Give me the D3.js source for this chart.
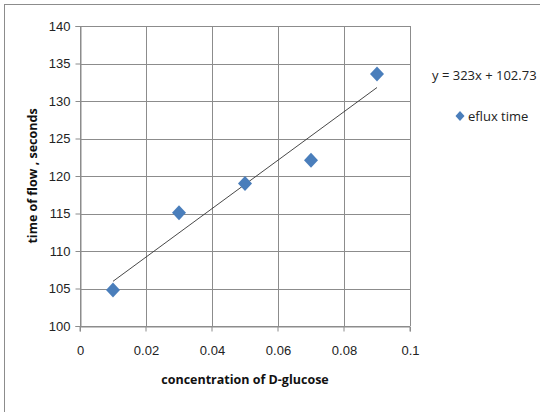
<!DOCTYPE html>
<html>
<head>
<meta charset="UTF-8">
<script src="https://d3js.org/d3.v7.min.js"></script>
<style>
  body { margin: 0; background: #fff; }
  svg { display: block; font-family: "Open Sans", sans-serif; }
  .tick text { font-size: 13px; fill: #222; }
  .title { font-size: 12.5px; font-weight: bold; fill: #111; }
</style>
</head>
<body>
<svg width="540" height="412"></svg>
<script>
// concentration of D-glucose
const conc = [0.01, 0.03, 0.05, 0.07, 0.09];
// eflux time (seconds)
const flowTime = [104.8, 115.1, 119.0, 122.1, 133.6];
const xTicks = [0, 0.02, 0.04, 0.06, 0.08, 0.1];
const yTicks = [100, 105, 110, 115, 120, 125, 130, 135, 140];
// trendline from the equation label
const slope = 323, intercept = 102.73;

const svg = d3.select("svg");
const margin = { left: 80, right: 130, top: 26, bottom: 86 };
const W = 540, H = 412;

// outer chart frame (right and bottom fall outside the picture)
svg.append("rect")
  .attr("x", 4.5).attr("y", 4.5)
  .attr("width", 600).attr("height", 500)
  .attr("fill", "none").attr("stroke", "#8c8c8c");

const x = d3.scaleLinear().domain([0, 0.1]).range([margin.left, W - margin.right]);
const y = d3.scaleLinear().domain([100, 140]).range([H - margin.bottom, margin.top]);

// gridlines
svg.append("g").selectAll("line").data(yTicks).join("line")
  .attr("x1", x(0)).attr("x2", x(0.1))
  .attr("y1", d => Math.round(y(d)) + 0.5).attr("y2", d => Math.round(y(d)) + 0.5)
  .attr("stroke", "#8c8c8c");
svg.append("g").selectAll("line").data(xTicks).join("line")
  .attr("y1", y(100)).attr("y2", y(140))
  .attr("x1", d => Math.round(x(d)) + 0.5).attr("x2", d => Math.round(x(d)) + 0.5)
  .attr("stroke", "#8c8c8c");

const xAxis = svg.append("g")
  .attr("transform", `translate(0,${Math.round(y(100)) + 0.5})`)
  .call(d3.axisBottom(x).tickValues(xTicks).tickFormat(d => String(+d.toFixed(2))).tickSize(5).tickPadding(14));
const yAxis = svg.append("g")
  .attr("transform", `translate(${Math.round(x(0)) + 0.5},0)`)
  .call(d3.axisLeft(y).tickValues(yTicks).tickSize(5).tickPadding(5));
[xAxis, yAxis].forEach(a => {
  a.select(".domain").attr("stroke", "#8c8c8c");
  a.selectAll(".tick line").attr("stroke", "#8c8c8c");
});
xAxis.selectAll(".tick line").attr("transform", "translate(-0.5,0)");

// trendline
svg.append("line")
  .attr("x1", x(conc[0])).attr("y1", y(slope * conc[0] + intercept))
  .attr("x2", x(conc[conc.length - 1])).attr("y2", y(slope * conc[conc.length - 1] + intercept))
  .attr("stroke", "#333").attr("stroke-width", 0.9);

// markers
const diamond = "M0,-7.5L7,0L0,7.5L-7,0Z";
svg.append("g").selectAll("path").data(conc).join("path")
  .attr("d", diamond)
  .attr("transform", (d, i) => `translate(${x(d)},${y(flowTime[i])})`)
  .attr("fill", "#4a7ebb");

// titles
svg.append("text").attr("class", "title")
  .attr("x", x(0.05)).attr("y", 384).attr("text-anchor", "middle")
  .text("concentration of D-glucose");
svg.append("text").attr("class", "title")
  .attr("transform", `translate(37,${y(120)}) rotate(-90)`)
  .attr("text-anchor", "middle")
  .text("time of flow , seconds");

// equation and legend
svg.append("text").attr("x", 432).attr("y", 80)
  .attr("font-size", 13).attr("fill", "#222")
  .text(`y = ${slope}x + ${intercept}`);
svg.append("path").attr("d", "M0,-5L4.5,0L0,5L-4.5,0Z")
  .attr("transform", "translate(460,116)").attr("fill", "#4a7ebb");
svg.append("text").attr("x", 468).attr("y", 121)
  .attr("font-size", 13).attr("fill", "#222")
  .text("eflux time");
</script>
</body>
</html>
